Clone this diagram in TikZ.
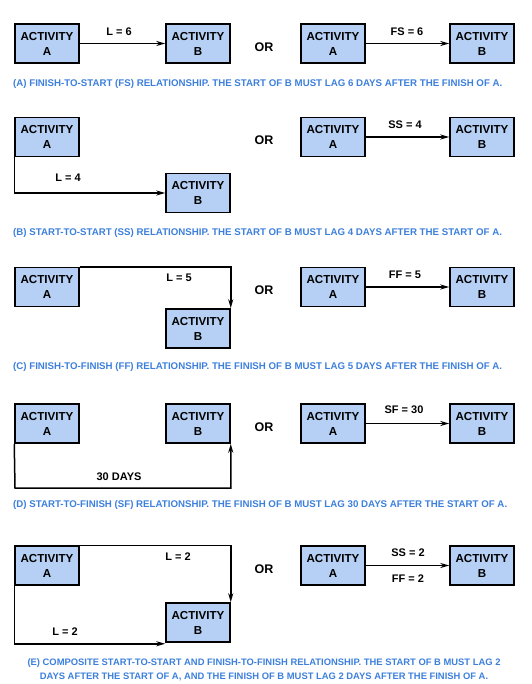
\documentclass[tikz,border=0pt]{standalone}
\usepackage{fontspec}
\setmainfont{Liberation Sans}
\usetikzlibrary{arrows.meta}
\definecolor{boxblue}{HTML}{B5D0F4}
\definecolor{capblue}{HTML}{3C7FDC}
\tikzset{
  act/.style={draw=black, line width=1.5pt, fill=boxblue, minimum width=64pt, minimum height=39pt,
    align=center, inner sep=0pt, font=\fontsize{11.6}{15}\selectfont\bfseries},
  lbl/.style={font=\fontsize{11}{13}\selectfont\bfseries, inner sep=0pt},
  ortext/.style={font=\fontsize{12.5}{14}\selectfont\bfseries, inner sep=0pt},
  captext/.style={font=\fontsize{9.7}{14}\selectfont\bfseries, text=capblue, inner sep=0pt},
  conn/.style={line width=1.5pt, -{Stealth[length=9pt,width=5pt]}},
}
\begin{document}
\begin{tikzpicture}[x=1pt,y=-1pt]
\useasboundingbox (0,0) rectangle (531,684);
% ---------- (A)
\node[act] (a1) at (47,43.5) {ACTIVITY\\A};
\node[act] (b1) at (198,43.5) {ACTIVITY\\B};
\node[act] (ra1) at (333,43.5) {ACTIVITY\\A};
\node[act] (rb1) at (482,43.5) {ACTIVITY\\B};
\draw[conn] (a1.east) -- (b1.west);
\draw[conn] (ra1.east) -- (rb1.west);
\node[lbl] (l1) at (119,32) {L = 6};
\node[lbl] (fs1) at (407,32) {FS = 6};
\node[ortext] (or1) at (264,47) {OR};
\node[captext, anchor=west] (c1) at (13,84) {(A) FINISH-TO-START (FS) RELATIONSHIP. THE START OF B MUST LAG 6 DAYS AFTER THE FINISH OF A.};
% ---------- (B)
\node[act] (a2) at (47,137) {ACTIVITY\\A};
\node[act] (b2) at (198,193) {ACTIVITY\\B};
\node[act] (ra2) at (333,137) {ACTIVITY\\A};
\node[act] (rb2) at (482,137) {ACTIVITY\\B};
\draw[conn] (a2.south west) |- (b2.west);
\draw[conn] (ra2.east) -- (rb2.west);
\node[lbl] (l2) at (68,178) {L = 4};
\node[lbl] (ss2) at (405,125) {SS = 4};
\node[ortext] (or2) at (264,140) {OR};
\node[captext, anchor=west] (c2) at (13,233) {(B) START-TO-START (SS) RELATIONSHIP. THE START OF B MUST LAG 4 DAYS AFTER THE START OF A.};
% ---------- (C)
\node[act] (a3) at (47,287) {ACTIVITY\\A};
\node[act] (b3) at (198,328.5) {ACTIVITY\\B};
\node[act] (ra3) at (333,287) {ACTIVITY\\A};
\node[act] (rb3) at (482,287) {ACTIVITY\\B};
\draw[conn] (a3.north east) -| (b3.north east);
\draw[conn] (ra3.east) -- (rb3.west);
\node[lbl] (l3) at (179,278) {L = 5};
\node[lbl] (ff3) at (405,275) {FF = 5};
\node[ortext] (or3) at (264,290) {OR};
\node[captext, anchor=west] (c3) at (13,367) {(C) FINISH-TO-FINISH (FF) RELATIONSHIP. THE FINISH OF B MUST LAG 5 DAYS AFTER THE FINISH OF A.};
% ---------- (D)
\node[act] (a4) at (47,423.5) {ACTIVITY\\A};
\node[act] (b4) at (198,423.5) {ACTIVITY\\B};
\node[act] (ra4) at (333,423.5) {ACTIVITY\\A};
\node[act] (rb4) at (482,423.5) {ACTIVITY\\B};
\coordinate (d4) at (15,488);
\draw[conn] (a4.south west) -- (d4) -| (b4.south east);
\draw[conn] (ra4.east) -- (rb4.west);
\node[lbl] (l4) at (119,477) {30 DAYS};
\node[lbl] (sf4) at (404,410) {SF = 30};
\node[ortext] (or4) at (264,427) {OR};
\node[captext, anchor=west] (c4) at (13,505) {(D) START-TO-FINISH (SF) RELATIONSHIP. THE FINISH OF B MUST LAG 30 DAYS AFTER THE START OF A.};
% ---------- (E)
\node[act] (a5) at (47,565.5) {ACTIVITY\\A};
\node[act] (b5) at (198,622.5) {ACTIVITY\\B};
\node[act] (ra5) at (333,565.5) {ACTIVITY\\A};
\node[act] (rb5) at (482,565.5) {ACTIVITY\\B};
\draw[conn] (a5.north east) -| (b5.north east);
\draw[conn] (a5.south west) |- ([yshift=-1pt]b5.south west);
\draw[conn] (ra5.east) -- (rb5.west);
\node[lbl] (l5a) at (178,557) {L = 2};
\node[lbl] (l5b) at (65,632) {L = 2};
\node[lbl] (ss5) at (408,553) {SS = 2};
\node[lbl] (ff5) at (408,579) {FF = 2};
\node[ortext] (or5) at (264,569) {OR};
\node[captext, align=center, font=\fontsize{9.4}{14}\selectfont\bfseries] (c5) at (264,670) {(E) COMPOSITE START-TO-START AND FINISH-TO-FINISH RELATIONSHIP. THE START OF B MUST LAG 2\\DAYS AFTER THE START OF A, AND THE FINISH OF B MUST LAG 2 DAYS AFTER THE FINISH OF A.};
\end{tikzpicture}
\end{document}
